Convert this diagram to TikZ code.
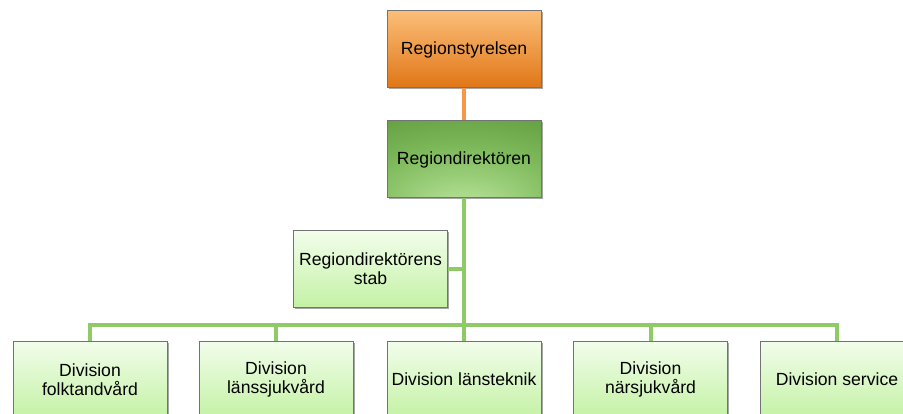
\documentclass[tikz,border=0pt]{standalone}
\usepackage{fontspec}
\setmainfont{Liberation Sans}
\usetikzlibrary{shadows}

\newlength{\du}
\setlength{\du}{1pt}

\definecolor{orangetop}{RGB}{251,190,120}
\definecolor{orangebot}{RGB}{224,118,22}
\definecolor{greendark}{RGB}{78,138,44}
\definecolor{greenmid}{RGB}{125,185,90}
\definecolor{greenlight}{RGB}{190,232,160}
\definecolor{paletop}{RGB}{242,253,235}
\definecolor{palebot}{RGB}{196,242,165}
\definecolor{orangeline}{RGB}{247,152,72}
\definecolor{greenline}{RGB}{142,202,102}
\definecolor{boxline}{RGB}{115,115,115}

\pgfdeclareradialshading{dirshade}{\pgfpoint{0bp}{-35bp}}{%
  color(0bp)=(greenlight); color(32bp)=(greenmid); color(68bp)=(greendark); color(100bp)=(greendark)}

\tikzset{
  orgbox/.style={draw=boxline, line width=1\du, minimum width=154\du, minimum height=77\du,
    inner sep=2\du, align=center, font=\fontsize{17.6}{18.8}\selectfont,
    drop shadow={shadow xshift=1.5\du, shadow yshift=-1.5\du, opacity=0.35, fill=black}},
  boardbox/.style={orgbox, top color=orangetop, bottom color=orangebot},
  headbox/.style={orgbox, shading=dirshade},
  unitbox/.style={orgbox, top color=paletop, bottom color=palebot},
  orangelink/.style={draw=orangeline, line width=4\du},
  greenlink/.style={draw=greenline, line width=4\du}
}

\begin{document}
\begin{tikzpicture}
\useasboundingbox (0\du,0\du) rectangle (903\du,-414\du);
\clip (0\du,0\du) rectangle (903\du,-414\du);

% top levels
\node[boardbox] (styr) at (464\du,-49.5\du) {Regionstyrelsen};
\node[headbox] (dir) at (464\du,-159.5\du) {Regiondirektören};
\node[unitbox] (stab) at (370.5\du,-269\du) {Regiondirektörens\\stab};

% divisions
\node[unitbox] (folk) at (90\du,-379.5\du) {Division\\folktandvård};
\node[unitbox] (lans) at (276\du,-379.5\du) {Division\\länssjukvård};
\node[unitbox] (tekn) at (464\du,-379.5\du) {Division länsteknik};
\node[unitbox] (nara) at (650.5\du,-379.5\du) {Division\\närsjukvård};
\node[unitbox] (serv) at (837\du,-379.5\du) {Division service};

\coordinate (bar) at (464\du,-325\du);

% links
\draw[orangelink] (styr.south) -- (dir.north);
\draw[greenlink] (dir.south) -- (tekn.north);
\draw[greenlink] (stab.east) -- (stab.east -| dir.south);
\draw[greenlink] (folk.north) |- (bar) -| (serv.north);
\draw[greenlink] (lans.north) -- (lans.north |- bar);
\draw[greenlink] (nara.north) -- (nara.north |- bar);
\end{tikzpicture}
\end{document}
